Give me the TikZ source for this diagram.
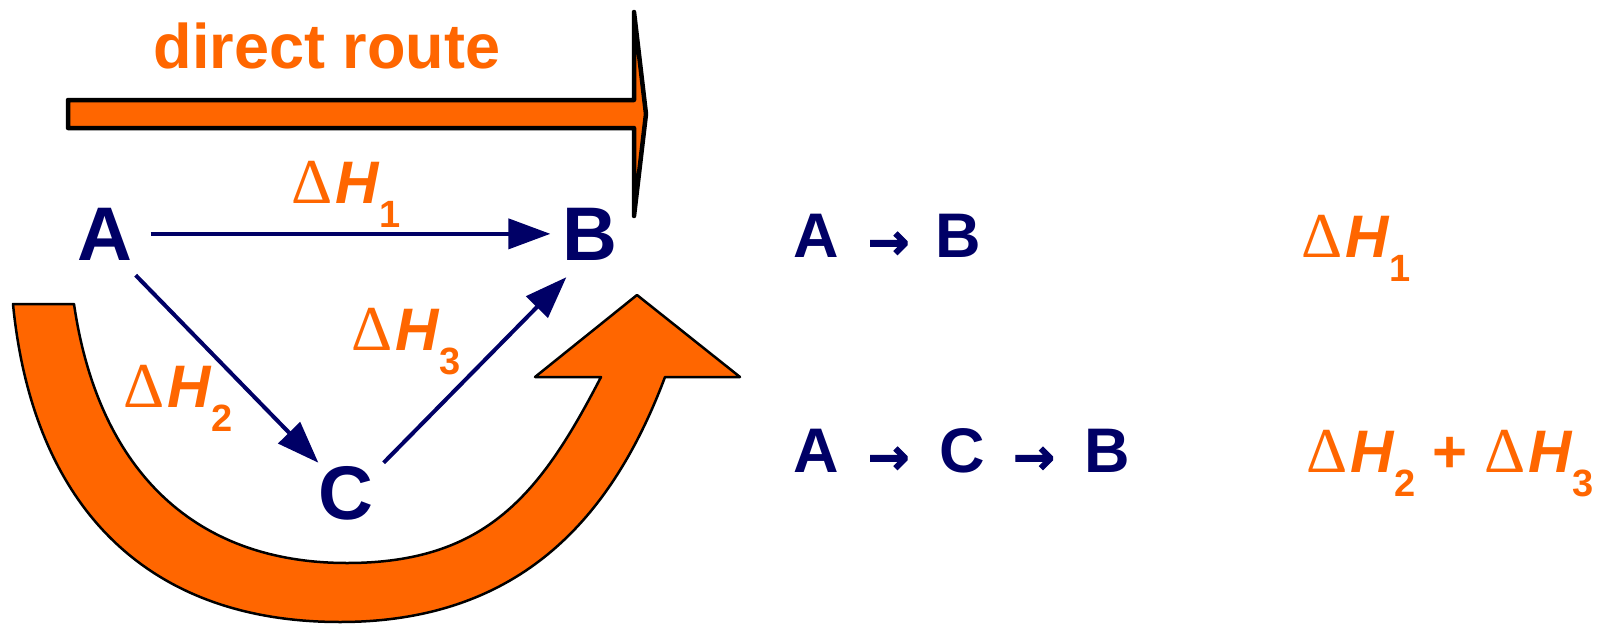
\documentclass[tikz,border=0pt]{standalone}
\usepackage{fontspec}
\setmainfont{Liberation Sans}
\newfontfamily\deltafont{Liberation Serif}
\newfontfamily\arrowfont{DejaVu Sans Bold}[FakeBold=2]
\usetikzlibrary{arrows.meta,positioning}
\definecolor{routeorange}{RGB}{255,102,0}
\definecolor{speciesblue}{RGB}{0,0,102}
\newcommand{\dH}[1]{{\fontsize{64}{64}\selectfont\deltafont Δ}\kern3pt{\bfseries\itshape H}\kern1pt\raisebox{-24pt}{\fontsize{38}{38}\selectfont\bfseries #1}}
\newcommand{\rto}{\raisebox{-2pt}{\fontsize{50}{50}\selectfont\arrowfont →}}
\tikzset{
  >={Triangle[length=42pt,width=30pt]},
  species/.style ={font=\fontsize{76}{76}\selectfont\bfseries, text=speciesblue,
                   inner sep=0pt, anchor=base},
  dhlabel/.style ={font=\fontsize{60}{60}\selectfont, text=routeorange,
                   inner sep=0pt, anchor=base},
  eqline/.style  ={font=\fontsize{63}{63}\selectfont\bfseries, text=speciesblue,
                   inner sep=0pt, anchor=base west},
  conn/.style    ={->, draw=speciesblue, line width=4pt},
  bigarrow/.style={fill=routeorange, draw=black, line join=round},
}
\begin{document}
\begin{tikzpicture}[x=1pt,y=-1pt]
\useasboundingbox (0,0) rectangle (1598,626);
% direct route
\node[font=\fontsize{63}{63}\selectfont\bfseries, text=routeorange, inner sep=0pt, anchor=base] (direct) at (327,69) {direct route};
\filldraw[bigarrow, line width=4.5pt] (68,100) -- (634,100) -- (634,12) -- (646,114) -- (634,216) -- (634,128) -- (68,128) -- cycle;
% route via C
\filldraw[bigarrow, line width=2.5pt]
  (13,304) .. controls (32,499) and (140,622) .. (340,622)
  .. controls (520,622) and (612,518) .. (665,377)
  -- (740,377) -- (637,295) -- (535,377) -- (601,377)
  .. controls (541,493) and (487,563) .. (347,563)
  .. controls (187,563) and (97,462) .. (74,304) -- cycle;
% species
\node[species] (A) at (105,260) {A};
\node[species] (B) at (590,260) {B};
\node[species] (C) at (346,519) {C};
\draw[conn, shorten <=18pt, shorten >=12pt] (A) -- (B);
\draw[conn] ([shift={(3,15)}]A.south east) -- ([shift={(0,-3)}]C.north west);
\draw[conn] ([shift={(10,-3)}]C.north east) -- ([shift={(4,17)}]B.south west);
\node[dhlabel] (dH1) at (346,203) {\dH{1}};
\node[dhlabel] (dH2) at (178,407) {\dH{2}};
\node[dhlabel] (dH3) at (406,350) {\dH{3}};
% equations
\node[eqline] (route1) at (793,257) {A\hspace{29pt}\rto\hspace{26pt}B};
\node[eqline] (route2) at (793,472) {A\hspace{29pt}\rto\hspace{30pt}C\hspace{28pt}\rto\hspace{30pt}B};
\node[dhlabel] (sum1) at (1356,257) {\dH{1}};
\node[dhlabel] (sum2) at (1450,472) {\dH{2} {\bfseries+} \dH{3}};
\end{tikzpicture}
\end{document}
